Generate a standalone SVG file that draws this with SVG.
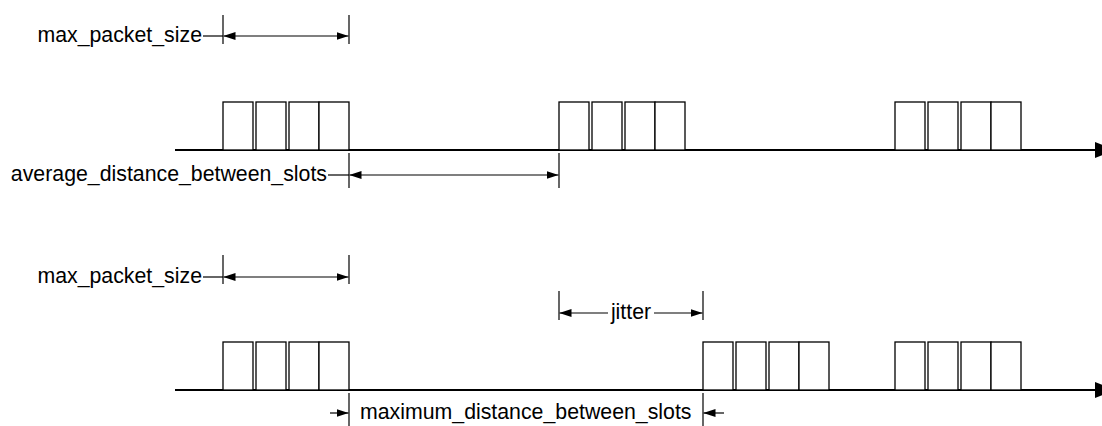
<svg xmlns="http://www.w3.org/2000/svg" width="1102" height="426" viewBox="0 0 1102 426">
<style>
text{font-family:"Liberation Sans",Arial,sans-serif;font-size:21.3px;fill:#000}
.pkt{fill:#fff;stroke:#000;stroke-width:1.3}
.axis{stroke:#000;stroke-width:2.2;fill:none}
.dim{stroke:#000;stroke-width:1.2;fill:none}
.tick{stroke:#000;stroke-width:1.2}
</style>
<defs>
<marker id="ah" markerWidth="12" markerHeight="8" refX="12" refY="4" orient="auto" markerUnits="userSpaceOnUse">
<path d="M0,0 L12,4 L0,8 Z" fill="#000"/>
</marker>
</defs>
<rect width="1102" height="426" fill="#fff"/>

<g id="connectors">
<!-- axes -->
<line class="axis" x1="175" y1="150" x2="1096" y2="150"/>
<polygon points="1095,142 1115,150 1095,158" fill="#000"/>
<line class="axis" x1="175" y1="390" x2="1096" y2="390"/>
<polygon points="1095,382 1115,390 1095,398" fill="#000"/>

<!-- top max_packet_size -->
<line class="tick" x1="223" y1="15" x2="223" y2="44"/>
<line class="tick" x1="349" y1="15" x2="349" y2="44"/>
<line class="dim" x1="203" y1="36" x2="223" y2="36"/>
<line class="dim" x1="286" y1="36" x2="223.5" y2="36" marker-end="url(#ah)"/>
<line class="dim" x1="286" y1="36" x2="348.5" y2="36" marker-end="url(#ah)"/>

<!-- average distance -->
<line class="tick" x1="349" y1="153" x2="349" y2="188"/>
<line class="tick" x1="559" y1="153" x2="559" y2="188"/>
<line class="dim" x1="328" y1="175" x2="349" y2="175"/>
<line class="dim" x1="454" y1="175" x2="349.5" y2="175" marker-end="url(#ah)"/>
<line class="dim" x1="454" y1="175" x2="558.5" y2="175" marker-end="url(#ah)"/>

<!-- bottom max_packet_size -->
<line class="tick" x1="223" y1="255" x2="223" y2="284"/>
<line class="tick" x1="349" y1="255" x2="349" y2="284"/>
<line class="dim" x1="203" y1="277" x2="223" y2="277"/>
<line class="dim" x1="286" y1="277" x2="223.5" y2="277" marker-end="url(#ah)"/>
<line class="dim" x1="286" y1="277" x2="348.5" y2="277" marker-end="url(#ah)"/>

<!-- jitter -->
<line class="tick" x1="559" y1="291" x2="559" y2="320"/>
<line class="tick" x1="703" y1="291" x2="703" y2="320"/>
<line class="dim" x1="608" y1="313" x2="559.5" y2="313" marker-end="url(#ah)"/>
<line class="dim" x1="654" y1="313" x2="702.5" y2="313" marker-end="url(#ah)"/>

<!-- maximum distance -->
<line class="tick" x1="349" y1="393" x2="349" y2="426"/>
<line class="tick" x1="703" y1="393" x2="703" y2="426"/>
<line class="dim" x1="330" y1="413" x2="348.5" y2="413" marker-end="url(#ah)"/>
<line class="dim" x1="724" y1="413" x2="703.5" y2="413" marker-end="url(#ah)"/>
</g>

<g id="packets-top-1">
<rect class="pkt" x="223" y="102" width="30" height="48"/>
<rect class="pkt" x="256" y="102" width="30" height="48"/>
<rect class="pkt" x="289" y="102" width="30" height="48"/>
<rect class="pkt" x="319" y="102" width="30" height="48"/>
</g>
<g id="packets-top-2">
<rect class="pkt" x="559" y="102" width="30" height="48"/>
<rect class="pkt" x="592" y="102" width="30" height="48"/>
<rect class="pkt" x="625" y="102" width="30" height="48"/>
<rect class="pkt" x="655" y="102" width="30" height="48"/>
</g>
<g id="packets-top-3">
<rect class="pkt" x="895" y="102" width="30" height="48"/>
<rect class="pkt" x="928" y="102" width="30" height="48"/>
<rect class="pkt" x="961" y="102" width="30" height="48"/>
<rect class="pkt" x="991" y="102" width="30" height="48"/>
</g>
<g id="packets-bottom-1">
<rect class="pkt" x="223" y="342" width="30" height="48"/>
<rect class="pkt" x="256" y="342" width="30" height="48"/>
<rect class="pkt" x="289" y="342" width="30" height="48"/>
<rect class="pkt" x="319" y="342" width="30" height="48"/>
</g>
<g id="packets-bottom-2">
<rect class="pkt" x="703" y="342" width="30" height="48"/>
<rect class="pkt" x="736" y="342" width="30" height="48"/>
<rect class="pkt" x="769" y="342" width="30" height="48"/>
<rect class="pkt" x="799" y="342" width="30" height="48"/>
</g>
<g id="packets-bottom-3">
<rect class="pkt" x="895" y="342" width="30" height="48"/>
<rect class="pkt" x="928" y="342" width="30" height="48"/>
<rect class="pkt" x="961" y="342" width="30" height="48"/>
<rect class="pkt" x="991" y="342" width="30" height="48"/>
</g>

<g id="label-max-packet-top"><text x="202" y="42" text-anchor="end">max_packet_size</text></g>
<g id="label-average"><text x="327" y="181" text-anchor="end">average_distance_between_slots</text></g>
<g id="label-max-packet-bottom"><text x="202" y="283" text-anchor="end">max_packet_size</text></g>
<g id="label-jitter"><text x="631" y="319" text-anchor="middle">jitter</text></g>
<g id="label-maximum"><text x="360" y="419">maximum_distance_between_slots</text></g>
</svg>
